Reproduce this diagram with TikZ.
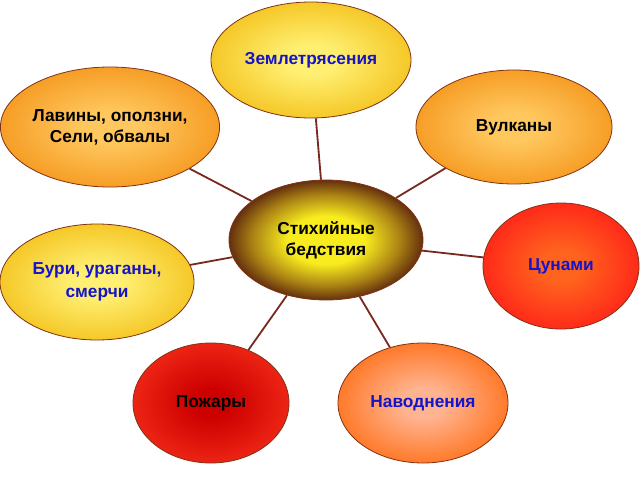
\documentclass[tikz,border=0pt]{standalone}
\usepackage{fontspec}
\setmainfont{Liberation Sans}
\usepackage{xcolor}
\definecolor{rimbrown}{RGB}{130,50,20}
\definecolor{linkbrown}{RGB}{120,40,30}
\definecolor{textblue}{RGB}{20,20,200}
\definecolor{sunlight}{RGB}{255,240,115}
\definecolor{sunedge}{RGB}{245,200,40}
\definecolor{amberlight}{RGB}{255,200,95}
\definecolor{amberedge}{RGB}{246,158,38}
\definecolor{hubcore}{RGB}{248,236,30}
\definecolor{hubmid}{RGB}{170,130,20}
\definecolor{hubedge}{RGB}{100,48,14}
\definecolor{wavecore}{RGB}{255,100,30}
\definecolor{waveedge}{RGB}{255,42,25}
\definecolor{firecore}{RGB}{205,0,0}
\definecolor{fireedge}{RGB}{236,36,20}
\definecolor{floodcore}{RGB}{255,180,145}
\definecolor{floodedge}{RGB}{255,122,42}
\usetikzlibrary{positioning,shapes.geometric}

\newcommand{\hazardshade}[3]{%
  \pgfdeclareradialshading{#1}{\pgfpoint{0bp}{0bp}}%
    {color(0bp)=(#2);color(6bp)=(#2);color(25bp)=(#3);color(50bp)=(#3)}}
\hazardshade{quakeshade}{sunlight}{sunedge}
\hazardshade{ambershade}{amberlight}{amberedge}
\hazardshade{waveshade}{wavecore}{waveedge}
\hazardshade{fireshade}{firecore}{fireedge}
\hazardshade{floodshade}{floodcore}{floodedge}
\pgfdeclareradialshading{hubshade}{\pgfpoint{0bp}{0bp}}%
  {color(0bp)=(hubcore);color(10bp)=(hubcore);color(19bp)=(hubmid);color(25bp)=(hubedge);color(50bp)=(hubedge)}

\tikzset{
  hazard/.style={ellipse,draw=rimbrown,line width=0.8pt,inner sep=0pt,align=center,
        font=\fontsize{17.3}{21}\selectfont\bfseries},
  link/.style={draw=linkbrown,line width=1.8pt}
}

\begin{document}
\begin{tikzpicture}[x=1pt,y=-1pt]
  \useasboundingbox (0,0) rectangle (640,480);
  \fill[white] (0,0) rectangle (640,480);

  \node[hazard,minimum width=194pt,minimum height=120pt,shading=hubshade] (hub) at (326,240) {Стихийные\\бедствия};

  \node[hazard,minimum width=200pt,minimum height=116pt,shading=quakeshade,text=textblue] (quake) at (311,60) {Землетрясения};
  \node[hazard,minimum width=212pt,minimum height=120pt,shading=ambershade] (slide) at (110,127) {Лавины, оползни,\\Сели, обвалы};
  \node[hazard,minimum width=196pt,minimum height=114pt,shading=ambershade] (volcano) at (514,127) {Вулканы};
  \node[hazard,minimum width=156pt,minimum height=126pt,shading=waveshade,text=textblue] (tsunami) at (561,266) {Цунами};
  \node[hazard,minimum width=194pt,minimum height=116pt,shading=quakeshade,text=textblue,font=\fontsize{17.3}{23}\selectfont\bfseries] (storm) at (97,282) {Бури, ураганы,\\смерчи};
  \node[hazard,minimum width=156pt,minimum height=120pt,shading=fireshade] (fire) at (211,403) {Пожары};
  \node[hazard,minimum width=170pt,minimum height=120pt,shading=floodshade,text=textblue] (flood) at (423,403) {Наводнения};

  \foreach \n in {quake,slide,volcano,tsunami,storm,fire,flood}
    \draw[link] (hub) -- (\n);
\end{tikzpicture}
\end{document}
